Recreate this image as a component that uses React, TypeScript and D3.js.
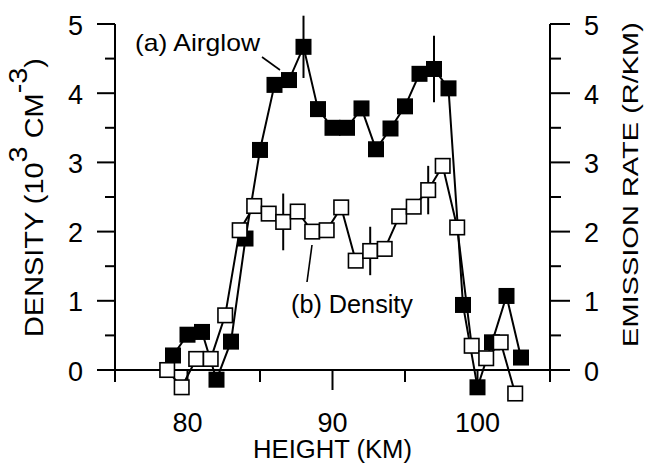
import React, { useLayoutEffect, useRef, useState } from "react";
import * as d3 from "d3";

// (a) airglow emission rate, R/km (filled squares)
const airglowHeight = [
  79, 80, 81, 82, 83, 84, 85, 86, 87, 88, 89, 90, 91, 92, 93, 94, 95, 96, 97,
  98, 99, 100, 101, 102, 103,
];
const airglowRate = [
  0.21, 0.51, 0.55, -0.14, 0.41, 1.9, 3.18, 4.12, 4.19, 4.67, 3.77, 3.5, 3.5,
  3.78, 3.19, 3.49, 3.81, 4.28, 4.35, 4.07, 0.94, -0.25, 0.4, 1.07, 0.18,
];
const airglowErrHeight = [88, 97];
const airglowErr = [0.45, 0.48];

// (b) density, 10^3 cm^-3 (open squares)
const densityHeight = [
  78.6, 79.6, 80.6, 81.6, 82.6, 83.6, 84.6, 85.6, 86.6, 87.6, 88.6, 89.6, 90.6,
  91.6, 92.6, 93.6, 94.6, 95.6, 96.6, 97.6, 98.6, 99.6, 100.6, 101.6, 102.6,
];
const densityValue = [
  0.0, -0.25, 0.16, 0.16, 0.79, 2.02, 2.37, 2.26, 2.14, 2.29, 2.0, 2.02, 2.35,
  1.58, 1.72, 1.75, 2.22, 2.36, 2.6, 2.95, 2.06, 0.35, 0.17, 0.4, -0.34,
];
const densityErrHeight = [86.6, 92.6, 96.6];
const densityErr = [0.41, 0.35, 0.35];

const xMajorTicks = [80, 90, 100];
const xMinorTicks = [75, 85, 95, 105];
const yMajorTicks = [0, 1, 2, 3, 4, 5];
const yMinorTicks = [0.5, 1.5, 2.5, 3.5, 4.5];

const W = 649;
const H = 463;
const FONT = "'Liberation Sans', Arial, Helvetica, sans-serif";

// text that gets stretched to a given length
const FitText = ({
  x,
  y,
  rotate = 0,
  length,
  fontSize,
  anchor = "middle",
  children,
}: {
  x: number;
  y: number;
  rotate?: number;
  length: number;
  fontSize: number;
  anchor?: string;
  children: React.ReactNode;
}) => {
  const ref = useRef<SVGTextElement>(null);
  const [k, setK] = useState(1);
  useLayoutEffect(() => {
    if (ref.current) {
      const w = ref.current.getComputedTextLength();
      if (w > 0) setK(length / w);
    }
  }, [length]);
  return (
    <text
      ref={ref}
      transform={`translate(${x},${y}) rotate(${rotate}) scale(${k},1)`}
      textAnchor={anchor}
      fontSize={fontSize}
      fontFamily={FONT}
      fill="#000"
    >
      {children}
    </text>
  );
};

export default function App() {
  const x = d3.scaleLinear().domain([75, 105]).range([115, 550]);
  const y = d3.scaleLinear().domain([0, 5]).range([370, 24]);
  const yRight = d3.scaleLinear().domain([0, 5]).range([370, 24]);

  const [x0, x1] = x.range();
  const y0 = y(0);

  const airglow = airglowHeight.map((h, i) => ({ h, v: airglowRate[i] }));
  const density = densityHeight.map((h, i) => ({ h, v: densityValue[i] }));

  const line = d3
    .line<{ h: number; v: number }>()
    .x((d) => x(d.h))
    .y((d) => y(d.v));

  const valueAt = (hs: number[], vs: number[], h: number) =>
    vs[hs.indexOf(h)];

  const sq = 16;
  const osq = 14.5;

  return (
    <svg
      width={W}
      height={H}
      viewBox={`0 0 ${W} ${H}`}
      style={{ position: "absolute", left: 0, top: 0, background: "#fff" }}
    >
      <rect width={W} height={H} fill="#fff" />

      {/* axes */}
      <g stroke="#000" strokeWidth={2} fill="none">
        <line x1={x0} x2={x0} y1={y(5)} y2={y0} />
        <line x1={x1} x2={x1} y1={yRight(5)} y2={y0} />
        <line x1={x0 - 18} x2={x1 + 20} y1={y0} y2={y0} />
        {yMajorTicks.map((t) => (
          <g key={`ym-${t}`}>
            <line x1={x0 - 18} x2={x0} y1={y(t)} y2={y(t)} />
            <line x1={x1} x2={x1 + 20} y1={yRight(t)} y2={yRight(t)} />
          </g>
        ))}
        {yMinorTicks.map((t) => (
          <g key={`yn-${t}`}>
            <line x1={x0 - 10} x2={x0} y1={y(t)} y2={y(t)} />
            <line x1={x1} x2={x1 + 11} y1={yRight(t)} y2={yRight(t)} />
          </g>
        ))}
        {xMajorTicks.map((t) => (
          <line key={`xm-${t}`} x1={x(t)} x2={x(t)} y1={y0} y2={y0 + 20} />
        ))}
        {xMinorTicks.map((t) => (
          <line key={`xn-${t}`} x1={x(t)} x2={x(t)} y1={y0} y2={y0 + 12} />
        ))}
      </g>

      {/* tick labels */}
      <g fontFamily={FONT} fontSize={27} fill="#000">
        {yMajorTicks.map((t) => (
          <text key={`yl-${t}`} x={x0 - 32} y={y(t) + 10.5} textAnchor="end">
            {t}
          </text>
        ))}
        {yMajorTicks.map((t) => (
          <text key={`yr-${t}`} x={x1 + 34} y={yRight(t) + 10.5}>
            {t}
          </text>
        ))}
        {xMajorTicks.map((t) => (
          <text key={`xl-${t}`} x={x(t)} y={432} textAnchor="middle">
            {t}
          </text>
        ))}
      </g>

      {/* axis titles */}
      <FitText x={332.5} y={458} length={159} fontSize={25}>
        HEIGHT (KM)
      </FitText>
      <FitText x={43} y={197.5} rotate={-90} length={279} fontSize={25}>
        DENSITY (10
        <tspan dy={-16}>3</tspan>
        <tspan dy={16}> CM</tspan>
        <tspan dy={-16}>-3</tspan>
        <tspan dy={16}>)</tspan>
      </FitText>
      <FitText x={638} y={184.5} rotate={-90} length={325} fontSize={22}>
        EMISSION RATE (R/KM)
      </FitText>

      {/* (a) airglow */}
      <path d={line(airglow) ?? ""} fill="none" stroke="#000" strokeWidth={2} />
      {airglowErrHeight.map((h, i) => {
        const v = valueAt(airglowHeight, airglowRate, h);
        return (
          <line
            key={`ae-${h}`}
            x1={x(h)}
            x2={x(h)}
            y1={y(v - airglowErr[i])}
            y2={y(v + airglowErr[i])}
            stroke="#000"
            strokeWidth={2}
          />
        );
      })}
      {airglow.map((d) => (
        <rect
          key={`a-${d.h}`}
          x={x(d.h) - sq / 2}
          y={y(d.v) - sq / 2}
          width={sq}
          height={sq}
          fill="#000"
        />
      ))}

      {/* (b) density */}
      <path d={line(density) ?? ""} fill="none" stroke="#000" strokeWidth={2} />
      {densityErrHeight.map((h, i) => {
        const v = valueAt(densityHeight, densityValue, h);
        return (
          <line
            key={`de-${h}`}
            x1={x(h)}
            x2={x(h)}
            y1={y(v - densityErr[i])}
            y2={y(v + densityErr[i])}
            stroke="#000"
            strokeWidth={2}
          />
        );
      })}
      {density.map((d) => (
        <rect
          key={`d-${d.h}`}
          x={x(d.h) - osq / 2}
          y={y(d.v) - osq / 2}
          width={osq}
          height={osq}
          fill="#fff"
          stroke="#000"
          strokeWidth={1.6}
        />
      ))}

      {/* curve labels */}
      <g stroke="#000" strokeWidth={1.6}>
        <line x1={262} y1={57} x2={280} y2={70} />
        <line x1={312} y1={245} x2={307} y2={282} />
      </g>
      <text
        x={135}
        y={51}
        fontFamily={FONT}
        fontSize={24}
        textLength={125}
        lengthAdjust="spacingAndGlyphs"
      >
        (a) Airglow
      </text>
      <text
        x={291}
        y={313}
        fontFamily={FONT}
        fontSize={25}
        textLength={122}
        lengthAdjust="spacingAndGlyphs"
      >
        (b) Density
      </text>
    </svg>
  );
}
